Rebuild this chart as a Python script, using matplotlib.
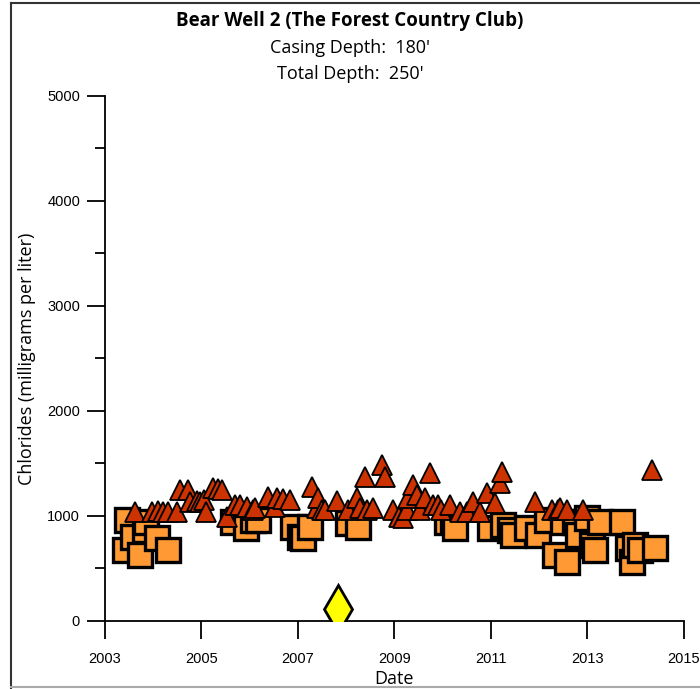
import matplotlib
matplotlib.use("Agg")
import matplotlib.pyplot as plt
from matplotlib.lines import Line2D
from matplotlib.ticker import MultipleLocator

# Data (decimal year, chlorides mg/L)
tri_year = [2003.62, 2003.97, 2004.10, 2004.20, 2004.30, 2004.50,
            2004.55, 2004.72, 2004.76, 2004.90, 2004.97, 2005.05, 2005.10,
            2005.24, 2005.34, 2005.42, 2005.52, 2005.70, 2005.80, 2005.94,
            2006.07, 2006.10, 2006.38, 2006.52, 2006.56, 2006.70, 2006.83,
            2007.30, 2007.40, 2007.42, 2007.50, 2007.57, 2007.80, 2008.04,
            2008.23, 2008.29, 2008.39, 2008.43, 2008.56, 2008.74, 2008.80,
            2008.96, 2009.10, 2009.18, 2009.26, 2009.28, 2009.38, 2009.46,
            2009.52, 2009.63, 2009.73, 2009.80, 2009.90, 2009.97, 2010.15,
            2010.36, 2010.50, 2010.63, 2010.77, 2010.92, 2011.08, 2011.19,
            2011.23, 2011.91, 2012.26, 2012.39, 2012.43, 2012.57, 2012.90,
            2014.34]
tri_val = [1038, 1038, 1045, 1040, 1038, 1038,
           1248, 1248, 1133, 1140, 1133, 1150, 1038,
           1265, 1260, 1248, 990, 1105, 1100, 1086,
           1060, 1076, 1181, 1086, 1171, 1165, 1152,
           1276, 1076, 1171, 1057, 1057, 1140, 1057,
           1171, 1076, 1371, 1057, 1076, 1486, 1371,
           1057, 990, 981, 1057, 1171, 1295, 1200,
           1057, 1171, 1410, 1105, 1105, 1057, 1105,
           1038, 1038, 1133, 1038, 1219, 1124, 1314,
           1419, 1133, 1057, 1057, 1076, 1057, 1057,
           1438]

sq_year = [2003.41, 2003.45, 2003.59, 2003.73, 2003.83, 2003.86, 2004.07,
           2004.31, 2005.66, 2005.93, 2006.07, 2006.18, 2006.90, 2007.04,
           2007.10, 2007.25, 2008.04, 2008.24, 2010.08, 2010.21, 2010.25,
           2010.98, 2011.25, 2011.40, 2011.46, 2011.75, 2011.98, 2012.16,
           2012.33, 2012.50, 2012.57, 2012.74, 2012.80, 2012.99, 2013.09,
           2013.16, 2013.26, 2013.71, 2013.84, 2013.92, 2013.98, 2014.09,
           2014.40]
sq_val = [676, 962, 803, 629, 867, 946, 788,
          676, 943, 886, 962, 962, 895, 800,
          790, 895, 933, 895, 946, 962, 886,
          886, 914, 867, 819, 886, 819, 962,
          629, 943, 562, 943, 819, 981, 724,
          676, 943, 943, 695, 562, 724, 676,
          695]

dia_year = [2007.83]
dia_val = [114]

fig = plt.figure(figsize=(7.0, 6.89), dpi=100)
ax = fig.add_axes([0.15, 0.0987, 0.827, 0.762])

ax.plot(sq_year, sq_val, linestyle="none", marker="s", markersize=17,
        markerfacecolor="#FF9933", markeredgecolor="black", markeredgewidth=2.4, zorder=2)
ax.plot(tri_year, tri_val, linestyle="none", marker="^", markersize=15,
        markerfacecolor="#CC3300", markeredgecolor="black", markeredgewidth=1.3, zorder=3)
ax.plot(dia_year, dia_val, linestyle="none", marker="d", markersize=24,
        markerfacecolor="#FFFF00", markeredgecolor="black", markeredgewidth=2.0, zorder=4)

ax.set_xlim(2003, 2015)
ax.set_ylim(0, 5000)
ax.set_xticks([2003, 2005, 2007, 2009, 2011, 2013, 2015])
ax.set_yticks([0, 1000, 2000, 3000, 4000, 5000])
ax.yaxis.set_minor_locator(MultipleLocator(500))

for s in ["top", "right"]:
    ax.spines[s].set_visible(False)
for s in ["left", "bottom"]:
    ax.spines[s].set_linewidth(1.3)

ax.tick_params(axis="both", which="major", direction="out", length=13, width=1.3,
               labelsize=10.5, pad=5)
ax.tick_params(axis="x", which="major", pad=9)
ax.tick_params(axis="y", which="minor", direction="out", length=7, width=1.3)
for lab in ax.get_xticklabels() + ax.get_yticklabels():
    lab.set_fontfamily("Liberation Sans")

ax.set_xlabel("Date", fontsize=13, fontfamily="Open Sans", labelpad=3)
ax.set_ylabel("Chlorides (milligrams per liter)", fontsize=13, fontfamily="Open Sans", labelpad=8)

fig.text(0.5, 0.970, "Bear Well 2 (The Forest Country Club)", ha="center", va="center",
         fontsize=13.5, fontweight="bold", fontfamily="Open Sans")
fig.text(0.5, 0.931, "Casing Depth:  180'", ha="center", va="center",
         fontsize=13, fontfamily="Open Sans")
fig.text(0.5, 0.893, "Total Depth:  250'", ha="center", va="center",
         fontsize=13, fontfamily="Open Sans")

# figure frame lines
fig.add_artist(Line2D([0.015, 0.015], [0.002, 0.995], transform=fig.transFigure,
                      color="#333333", linewidth=1.5))
fig.add_artist(Line2D([0.015, 1.0], [0.995, 0.995], transform=fig.transFigure,
                      color="#333333", linewidth=1.5))
fig.add_artist(Line2D([0.015, 1.0], [0.003, 0.003], transform=fig.transFigure,
                      color="#aaaaaa", linewidth=1.5))

fig.savefig("out.png", dpi=100)
